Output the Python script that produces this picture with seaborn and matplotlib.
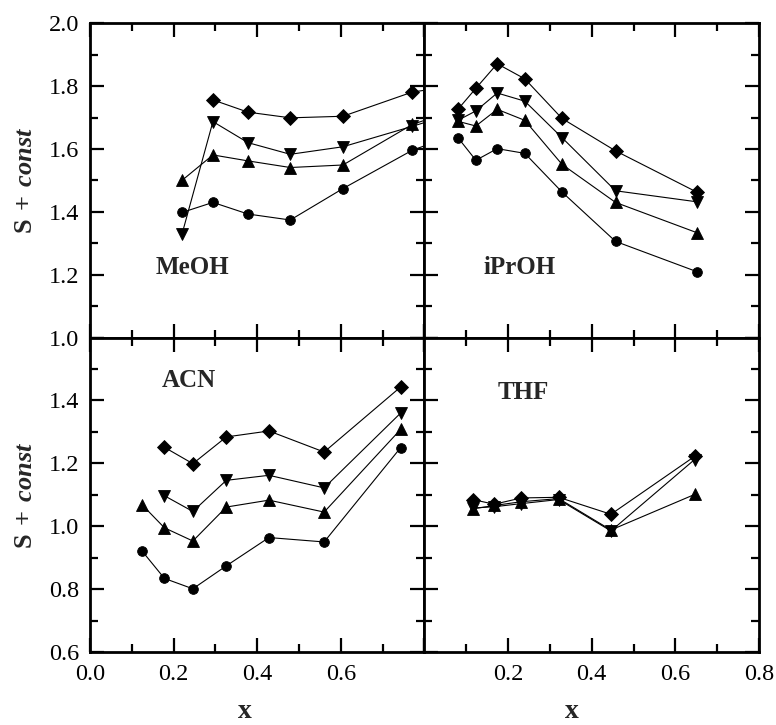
import numpy as np
import pandas as pd
import matplotlib
matplotlib.use("Agg")
import matplotlib.pyplot as plt
from matplotlib.ticker import MultipleLocator
import seaborn as sns

nan = np.nan

# MeOH (last point lies beyond the plotted x range)
meoh_x = [0.220, 0.294, 0.378, 0.479, 0.605, 0.771, 0.900]
meoh_diamond = [nan, 1.756, 1.717, 1.699, 1.704, 1.781, 1.806]
meoh_down = [1.329, 1.687, 1.620, 1.583, 1.607, 1.672, 1.725]
meoh_up = [1.500, 1.581, 1.562, 1.541, 1.549, 1.678, 1.736]
meoh_circle = [1.398, 1.430, 1.393, 1.374, 1.474, 1.596, 1.658]

# iPrOH
iproh_x = [0.080, 0.123, 0.174, 0.240, 0.329, 0.457, 0.651]
iproh_diamond = [1.726, 1.793, 1.871, 1.823, 1.697, 1.594, 1.463]
iproh_down = [1.691, 1.721, 1.778, 1.752, 1.636, 1.467, 1.432]
iproh_up = [1.688, 1.673, 1.726, 1.691, 1.551, 1.430, 1.334]
iproh_circle = [1.636, 1.564, 1.601, 1.586, 1.463, 1.306, 1.210]

# ACN
acn_x = [0.124, 0.178, 0.246, 0.326, 0.428, 0.560, 0.743]
acn_diamond = [nan, 1.251, 1.199, 1.284, 1.303, 1.236, 1.443]
acn_down = [nan, 1.097, 1.047, 1.146, 1.162, 1.122, 1.360]
acn_up = [1.069, 0.995, 0.953, 1.061, 1.083, 1.045, 1.308]
acn_circle = [0.922, 0.834, 0.801, 0.874, 0.964, 0.950, 1.250]

# THF
thf_x = [0.115, 0.167, 0.232, 0.321, 0.446, 0.646]
thf_diamond = [1.085, 1.070, 1.090, 1.092, 1.038, 1.222]
thf_down = [1.058, 1.062, 1.072, 1.085, 0.985, 1.212]
thf_up = [1.055, 1.066, 1.078, 1.088, 0.988, 1.101]

panel_names = ["MeOH", "iPrOH", "ACN", "THF"]
x_ticks_left = [0.0, 0.2, 0.4, 0.6]
x_ticks_right = [0.2, 0.4, 0.6, 0.8]
y_ticks_top = [1.0, 1.2, 1.4, 1.6, 1.8, 2.0]
y_ticks_bottom = [0.6, 0.8, 1.0, 1.2, 1.4]


def long_frame(x, series):
    rows = []
    for name, vals in series.items():
        for xi, yi in zip(x, vals):
            if not np.isnan(yi):
                rows.append({"x": xi, "S": yi, "series": name})
    return pd.DataFrame(rows)


panels = {
    "MeOH": long_frame(meoh_x, {"diamond": meoh_diamond, "down": meoh_down,
                                "up": meoh_up, "circle": meoh_circle}),
    "iPrOH": long_frame(iproh_x, {"diamond": iproh_diamond, "down": iproh_down,
                                  "up": iproh_up, "circle": iproh_circle}),
    "ACN": long_frame(acn_x, {"diamond": acn_diamond, "down": acn_down,
                              "up": acn_up, "circle": acn_circle}),
    "THF": long_frame(thf_x, {"diamond": thf_diamond, "down": thf_down,
                              "up": thf_up}),
}

marker_map = {"diamond": "D", "down": "v", "up": "^", "circle": "o"}
marker_size = {"diamond": 7.2, "down": 8, "up": 8, "circle": 7}

sns.set_style("ticks")
plt.rcParams["font.family"] = ["Liberation Serif", "DejaVu Serif"]
plt.rcParams["mathtext.fontset"] = "custom"
plt.rcParams["mathtext.rm"] = "Liberation Serif"
plt.rcParams["mathtext.bf"] = "Liberation Serif:bold"
plt.rcParams["mathtext.it"] = "Liberation Serif:italic"
plt.rcParams["mathtext.bfit"] = "Liberation Serif:bold:italic"

fig, axes = plt.subplots(2, 2, figsize=(7.76, 7.25), dpi=100)
fig.subplots_adjust(left=0.116, right=0.978, top=0.968, bottom=0.1007,
                    wspace=0, hspace=0)

label_pos = {"MeOH": (0.157, 1.222), "iPrOH": (0.141, 1.222),
             "ACN": (0.172, 1.463), "THF": (0.174, 1.425)}

for ax, name in zip(axes.flat, panel_names):
    df = panels[name]
    for s, grp in df.groupby("series", sort=False):
        sns.lineplot(data=grp, x="x", y="S", ax=ax, color="black",
                     linewidth=0.8, marker=marker_map[s],
                     markersize=marker_size[s], markeredgecolor="black",
                     markeredgewidth=0.6, estimator=None, sort=False,
                     legend=False)
    ax.set_xlim(0.0, 0.8)
    ax.xaxis.set_major_locator(MultipleLocator(0.2))
    ax.xaxis.set_minor_locator(MultipleLocator(0.1))
    ax.yaxis.set_major_locator(MultipleLocator(0.2))
    ax.yaxis.set_minor_locator(MultipleLocator(0.1))
    ax.tick_params(which="both", direction="in", top=True, right=True,
                   width=1.6, labelsize=17.5, colors="black")
    ax.tick_params(which="major", length=10)
    ax.tick_params(which="minor", length=6)
    ax.tick_params(axis="x", pad=9)
    ax.tick_params(axis="y", pad=8)
    for sp in ax.spines.values():
        sp.set_linewidth(2.0)
        sp.set_color("black")
    ax.set_xlabel("")
    ax.set_ylabel("")
    tx, ty = label_pos[name]
    ax.text(tx, ty, name, fontsize=18, fontweight="bold", ha="left",
            va="center")

ax_ml, ax_ip, ax_acn, ax_thf = axes.flat
for ax in (ax_ml, ax_ip):
    ax.set_ylim(1.0, 2.0)
    ax.tick_params(axis="x", labelbottom=False)
for ax in (ax_acn, ax_thf):
    ax.set_ylim(0.6, 1.6)

ax_ml.set_yticks(y_ticks_top)
ax_ml.set_yticklabels([f"{v:.1f}" for v in y_ticks_top])
ax_acn.set_yticks(y_ticks_bottom + [1.6])
ax_acn.set_yticklabels([f"{v:.1f}" for v in y_ticks_bottom] + [""])
ax_ip.tick_params(axis="y", labelleft=False)
ax_thf.tick_params(axis="y", labelleft=False)

ax_acn.set_xticks(x_ticks_left + [0.8])
ax_acn.set_xticklabels([f"{v:.1f}" for v in x_ticks_left] + [""])
ax_thf.set_xticks([0.0] + x_ticks_right)
ax_thf.set_xticklabels([""] + [f"{v:.1f}" for v in x_ticks_right])

for ax in (ax_ml, ax_acn):
    ax.set_ylabel(r"$\mathbf{S\;+\;}\boldsymbol{const}$", fontsize=19,
                  labelpad=8)

fig.text(245 / 776, 1 / 725, "x", fontsize=20, fontweight="bold",
         ha="center", va="bottom")
fig.text(572 / 776, 1 / 725, "x", fontsize=20, fontweight="bold",
         ha="center", va="bottom")

fig.savefig("out.png", dpi=100)
